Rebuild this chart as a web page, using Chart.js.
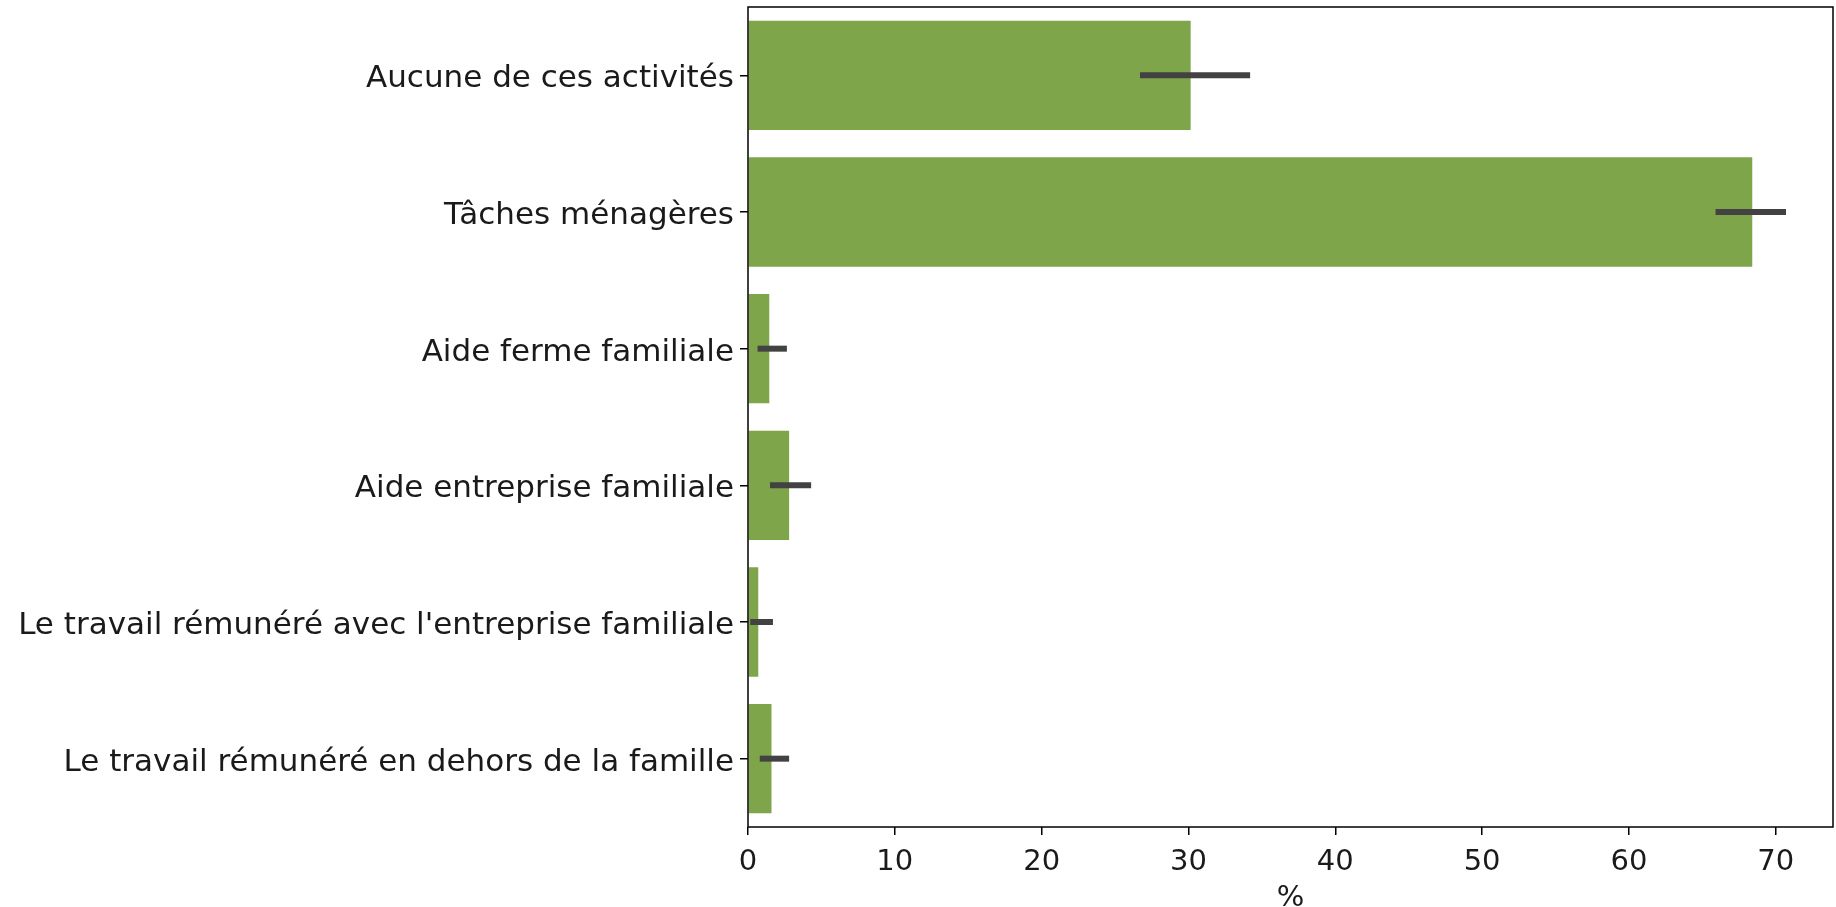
<!DOCTYPE html>
<html>
<head>
<meta charset="utf-8">
<script src="https://cdn.jsdelivr.net/npm/chart.js@4"></script>
<style>
    html, body { margin: 0; padding: 0; background: #fff; }
    #chart { display: block; }
</style>
</head>
<body>
<canvas id="chart" width="1836" height="907"></canvas>
<script>
// Activities (one bar each)
const categories = [
    "Aucune de ces activités",
    "Tâches ménagères",
    "Aide ferme familiale",
    "Aide entreprise familiale",
    "Le travail rémunéré avec l'entreprise familiale",
    "Le travail rémunéré en dehors de la famille"
];

// Share in %, with confidence interval bounds
const percentages = [30.15, 68.4, 1.45, 2.8, 0.7, 1.6];
const ciLow = [26.7, 65.9, 0.65, 1.5, 0.15, 0.8];
const ciHigh = [34.2, 70.7, 2.65, 4.3, 1.7, 2.8];

const xTicks = [0, 10, 20, 30, 40, 50, 60, 70];

const BAR_COLOR = '#7ea54a';
const ERR_COLOR = '#424242';
const TEXT_COLOR = '#1a1a1a';
const FONT = 'DejaVu Sans';

// Draw the confidence interval lines over each bar
const errorBars = {
    id: 'errorBars',
    afterDatasetsDraw(chart) {
        const ctx = chart.ctx;
        const xs = chart.scales.x;
        const ys = chart.scales.y;
        ctx.save();
        ctx.strokeStyle = ERR_COLOR;
        ctx.lineWidth = 6;
        ctx.lineCap = 'butt';
        categories.forEach((c, i) => {
            const y = ys.getPixelForValue(i);
            ctx.beginPath();
            ctx.moveTo(xs.getPixelForValue(ciLow[i]), y);
            ctx.lineTo(xs.getPixelForValue(ciHigh[i]), y);
            ctx.stroke();
        });
        ctx.restore();
    }
};

// Box around the plot area
const frame = {
    id: 'frame',
    afterDraw(chart) {
        const a = chart.chartArea;
        const ctx = chart.ctx;
        ctx.save();
        ctx.strokeStyle = '#000';
        ctx.lineWidth = 1.5;
        ctx.strokeRect(a.left, a.top, a.right - a.left, a.bottom - a.top);
        ctx.restore();
    }
};

new Chart(document.getElementById('chart'), {
    type: 'bar',
    data: {
        labels: categories,
        datasets: [{
            data: percentages,
            backgroundColor: BAR_COLOR,
            barPercentage: 0.8,
            categoryPercentage: 1.0
        }]
    },
    options: {
        indexAxis: 'y',
        responsive: false,
        animation: false,
        layout: { padding: { left: 0, right: 3, top: 7, bottom: 0 } },
        plugins: {
            legend: { display: false },
            tooltip: { enabled: false }
        },
        scales: {
            x: {
                type: 'linear',
                min: 0,
                max: 73.9,
                afterBuildTicks(scale) {
                    scale.ticks = xTicks.map(v => ({ value: v }));
                },
                afterFit(scale) {
                    scale.height = 80;
                    scale.paddingLeft = 0;
                    scale.paddingRight = 0;
                },
                border: { display: false },
                grid: {
                    drawOnChartArea: false,
                    drawTicks: true,
                    tickLength: 8,
                    color: '#000',
                    lineWidth: 1.5
                },
                ticks: {
                    color: TEXT_COLOR,
                    padding: 10,
                    font: { family: FONT, size: 29 }
                },
                title: {
                    display: true,
                    text: '%',
                    color: TEXT_COLOR,
                    padding: { top: 0, bottom: -6 },
                    font: { family: FONT, size: 29, lineHeight: 1.0 }
                }
            },
            y: {
                afterFit(scale) {
                    scale.width = 748;
                    scale.paddingTop = 0;
                    scale.paddingBottom = 0;
                },
                border: { display: false },
                grid: {
                    offset: false,
                    drawOnChartArea: false,
                    drawTicks: true,
                    tickLength: 8,
                    color: '#000',
                    lineWidth: 1.5
                },
                ticks: {
                    color: TEXT_COLOR,
                    padding: 6,
                    labelOffset: 4,
                    font: { family: FONT, size: 31 }
                }
            }
        }
    },
    plugins: [errorBars, frame]
});
</script>
</body>
</html>
